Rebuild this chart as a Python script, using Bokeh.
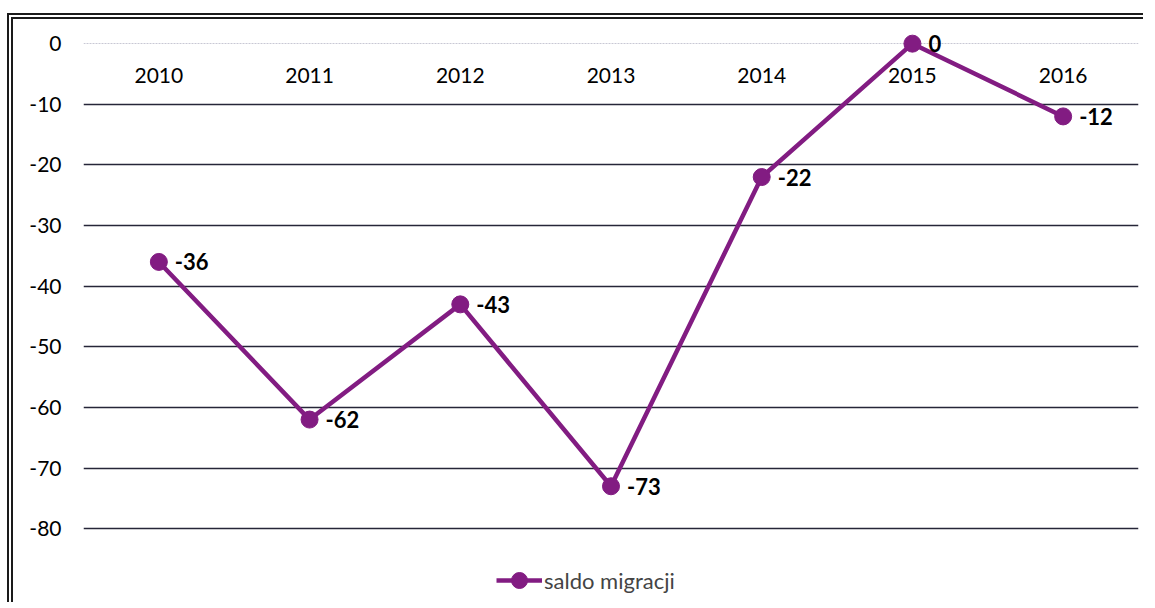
from bokeh.plotting import figure
from bokeh.layouts import column
from bokeh.models import Range1d, FixedTicker, Grid, Legend, LegendItem, ColumnDataSource
from bokeh.core.properties import value
from bokeh.embed import file_html
from bokeh.resources import INLINE

years = [2010, 2011, 2012, 2013, 2014, 2015, 2016]
saldo = [-36, -62, -43, -73, -22, 0, -12]
y_ticks = [0, -10, -20, -30, -40, -50, -60, -70, -80]
series_name = "saldo migracji"

FONT = "Lato"
PURPLE = "#821c82"

src = ColumnDataSource(dict(
    x=years, y=saldo,
    lab=[str(v) for v in saldo],
    yl=[str(v) for v in years],
    y0=[0] * len(years),
))

p = figure(width=1136, height=589, output_backend="svg", toolbar_location=None,
           x_range=Range1d(2009.5, 2016.5), y_range=Range1d(-92.5, 2.5),
           min_border_left=70, min_border_right=11, min_border_top=9, min_border_bottom=4)
p.styles = {"border-top": "6px double #1a1a1a", "border-left": "6px double #1a1a1a"}
p.outline_line_color = None
p.xaxis.visible = False
p.xgrid.visible = False

p.yaxis.ticker = FixedTicker(ticks=y_ticks)
p.yaxis.major_label_overrides = {t: str(t) for t in y_ticks}
p.yaxis.axis_line_color = None
p.yaxis.major_tick_line_color = None
p.yaxis.minor_tick_line_color = None
p.yaxis.major_label_text_font = FONT
p.yaxis.major_label_text_font_size = "21px"
p.yaxis.major_label_text_color = "#000000"
p.yaxis.major_label_standoff = 16

p.ygrid.ticker = FixedTicker(ticks=[t for t in y_ticks if t != 0])
p.ygrid.grid_line_color = "#262638"
p.ygrid.grid_line_width = 1.3
zero_grid = Grid(dimension=1, ticker=FixedTicker(ticks=[0]),
                 grid_line_color="#c8c8d4", grid_line_width=1.2, grid_line_dash="2 1")
p.add_layout(zero_grid)

# category labels sitting just below the zero line
p.text(x="x", y="y0", text="yl", source=src, text_font=value(FONT),
       text_font_size="21px", text_align="center", text_baseline="middle",
       y_offset=32, text_color="#000000")

ln = p.line(x="x", y="y", source=src, line_color=PURPLE, line_width=4.5)
mk = p.scatter(x="x", y="y", source=src, size=17, fill_color=PURPLE, line_color=PURPLE)

p.text(x="x", y="y", text="lab", source=src, text_font=value(FONT),
       text_font_size="22px", text_font_style="bold", text_align="left",
       text_baseline="middle", x_offset=16, y_offset=0, text_color="#000000")

legend = Legend(items=[LegendItem(label=series_name, renderers=[ln, mk])],
                location=(413, 4), orientation="horizontal",
                label_text_font=FONT, label_text_font_size="22px",
                glyph_width=46, glyph_height=40, border_line_color=None,
                background_fill_alpha=0, margin=0, padding=2, label_standoff=2)
p.add_layout(legend)

root = column(p, styles={"padding-left": "7px", "padding-top": "13px"})

open("out.html", "w").write(file_html(root, INLINE))
